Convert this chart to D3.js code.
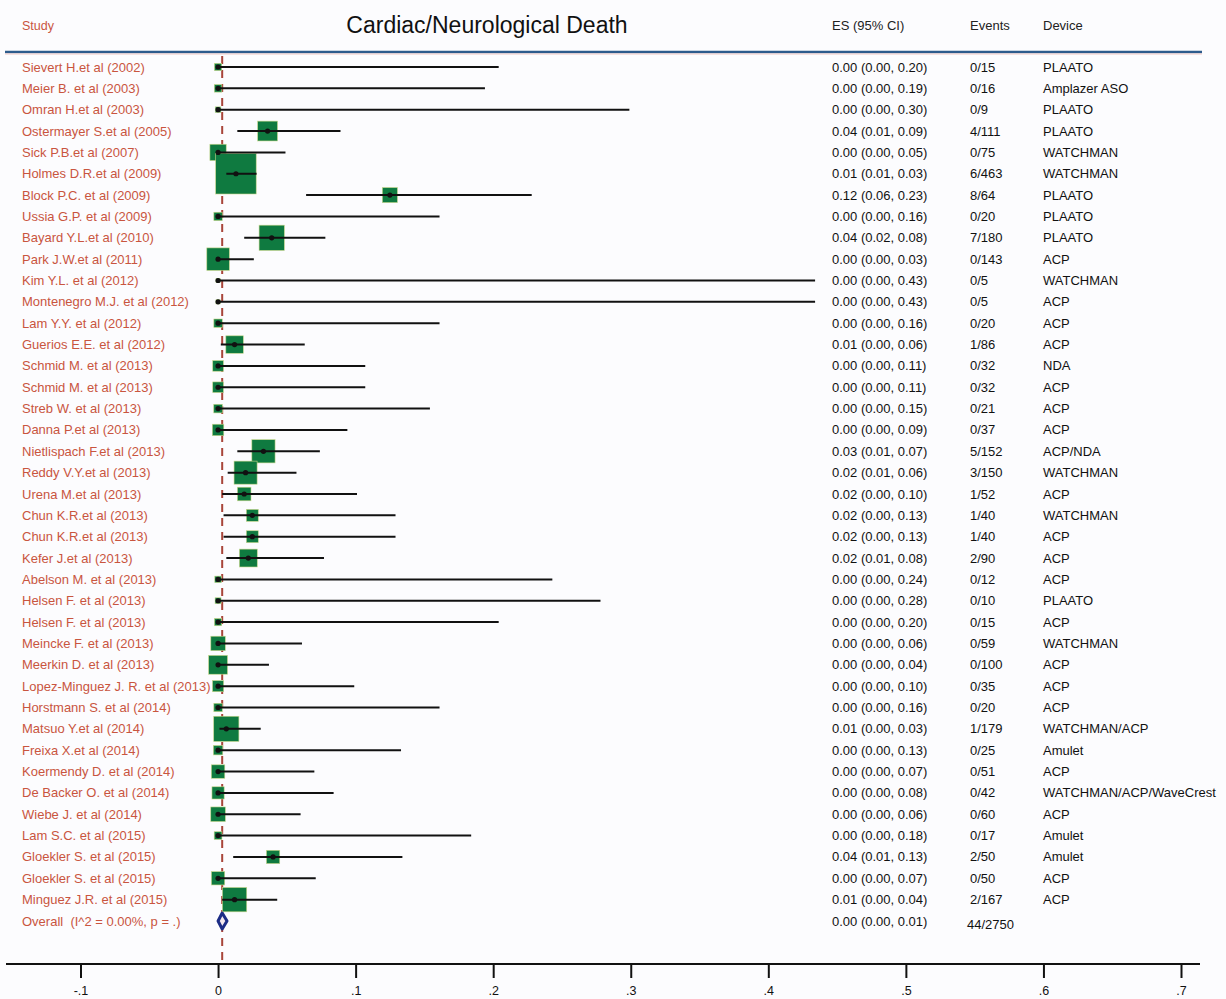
<!DOCTYPE html>
<html>
<head>
<meta charset="utf-8">
<script src="https://cdn.jsdelivr.net/npm/d3@7"></script>
<style>
  html, body { margin: 0; padding: 0; background: #fcfcfe; }
  svg { display: block; font-family: "Liberation Sans", Arial, Helvetica, sans-serif; }
</style>
</head>
<body>
<svg id="chart" width="1226" height="999"></svg>
<script>
// Study rows, top to bottom
const studies = [
  "Sievert H.et al (2002)", "Meier B. et al (2003)", "Omran H.et al (2003)",
  "Ostermayer S.et al (2005)", "Sick P.B.et al (2007)", "Holmes D.R.et al (2009)",
  "Block P.C. et al (2009)", "Ussia G.P. et al (2009)", "Bayard Y.L.et al (2010)",
  "Park J.W.et al (2011)", "Kim Y.L. et al (2012)", "Montenegro M.J. et al (2012)",
  "Lam Y.Y. et al (2012)", "Guerios E.E. et al (2012)", "Schmid M. et al (2013)",
  "Schmid M. et al (2013)", "Streb W. et al (2013)", "Danna P.et al (2013)",
  "Nietlispach F.et al (2013)", "Reddy V.Y.et al (2013)", "Urena M.et al (2013)",
  "Chun K.R.et al (2013)", "Chun K.R.et al (2013)", "Kefer J.et al (2013)",
  "Abelson M. et al (2013)", "Helsen F. et al (2013)", "Helsen F. et al (2013)",
  "Meincke F. et al (2013)", "Meerkin D. et al (2013)", "Lopez-Minguez J. R. et al (2013)",
  "Horstmann S. et al (2014)", "Matsuo Y.et al (2014)", "Freixa X.et al (2014)",
  "Koermendy D. et al (2014)", "De Backer O. et al (2014)", "Wiebe J. et al (2014)",
  "Lam S.C. et al (2015)", "Gloekler S. et al (2015)", "Gloekler S. et al (2015)",
  "Minguez J.R. et al (2015)"
];

// Events and patients per study
const events = [0, 0, 0, 4, 0, 6, 8, 0, 7, 0, 0, 0, 0, 1, 0, 0, 0, 0, 5, 3,
                1, 1, 1, 2, 0, 0, 0, 0, 0, 0, 0, 1, 0, 0, 0, 0, 0, 2, 0, 2];
const totals = [15, 16, 9, 111, 75, 463, 64, 20, 180, 143, 5, 5, 20, 86, 32, 32, 21, 37, 152, 150,
                52, 40, 40, 90, 12, 10, 15, 59, 100, 35, 20, 179, 25, 51, 42, 60, 17, 50, 50, 167];

// Effect size (proportion) with 95% CI
const es = [0, 0, 0, 0.036, 0, 0.013, 0.1249, 0, 0.039, 0, 0, 0, 0, 0.012, 0, 0, 0, 0, 0.033, 0.020,
            0.019, 0.0249, 0.0249, 0.022, 0, 0, 0, 0, 0, 0, 0, 0.006, 0, 0, 0, 0, 0, 0.040, 0, 0.012];
const ciLow = [0, 0, 0, 0.014, 0, 0.006, 0.064, 0, 0.019, 0, 0, 0, 0, 0.002, 0, 0, 0, 0, 0.014, 0.007,
               0.003, 0.004, 0.004, 0.006, 0, 0, 0, 0, 0, 0, 0, 0.001, 0, 0, 0, 0, 0, 0.011, 0, 0.003];
const ciHigh = [0.204, 0.194, 0.299, 0.089, 0.049, 0.028, 0.228, 0.161, 0.078, 0.026,
                0.434, 0.434, 0.161, 0.063, 0.107, 0.107, 0.154, 0.094, 0.074, 0.057,
                0.101, 0.129, 0.129, 0.077, 0.243, 0.278, 0.204, 0.061, 0.037, 0.099,
                0.161, 0.031, 0.133, 0.070, 0.084, 0.060, 0.184, 0.134, 0.071, 0.043];

const devices = [
  "PLAATO", "Amplazer ASO", "PLAATO", "PLAATO", "WATCHMAN", "WATCHMAN", "PLAATO", "PLAATO",
  "PLAATO", "ACP", "WATCHMAN", "ACP", "ACP", "ACP", "NDA", "ACP", "ACP", "ACP", "ACP/NDA",
  "WATCHMAN", "ACP", "WATCHMAN", "ACP", "ACP", "ACP", "PLAATO", "ACP", "WATCHMAN", "ACP",
  "ACP", "ACP", "WATCHMAN/ACP", "Amulet", "ACP", "WATCHMAN/ACP/WaveCrest", "ACP", "Amulet",
  "Amulet", "ACP", "ACP"
];

// Pooled estimate
const overallLabel = "Overall  (I^2 = 0.00%, p = .)";
const overallES = 0.003;
const overallLow = 0.0;
const overallHigh = 0.0065;
const overallEvents = "44/2750";

const titleText = "Cardiac/Neurological Death";
const headers = { study: "Study", es: "ES (95% CI)", events: "Events", device: "Device" };
const xTicks = [-0.1, 0, 0.1, 0.2, 0.3, 0.4, 0.5, 0.6, 0.7];

// ---- layout ----
const svg = d3.select("#chart");
const labelColor = "#c9553f";
const boxColor = "#0f7a40";

const x = d3.scaleLinear().domain([-0.1, 0.7]).range([80.5, 1181]);
const nRows = studies.length + 1;
const y = d3.scalePoint().domain(d3.range(nRows)).range([67, 921]);
const boxSide = d3.scaleSqrt().domain([0, d3.max(totals)]).range([0, 40.5]);
const fmt2 = d3.format(".2f");

const rows = studies.map((s, i) => ({
  i, study: s, es: es[i], lo: ciLow[i], hi: ciHigh[i],
  ev: events[i], n: totals[i], device: devices[i]
}));

// header
svg.append("text").attr("x", 22).attr("y", 30).attr("font-size", 12.5)
  .attr("fill", labelColor).text(headers.study);
svg.append("text").attr("x", 487).attr("y", 33).attr("font-size", 23)
  .attr("text-anchor", "middle").attr("fill", "#111").text(titleText);
svg.append("text").attr("x", 832).attr("y", 30).attr("font-size", 13)
  .attr("fill", "#222").text(headers.es);
svg.append("text").attr("x", 970).attr("y", 30).attr("font-size", 13)
  .attr("fill", "#222").text(headers.events);
svg.append("text").attr("x", 1043).attr("y", 30).attr("font-size", 13)
  .attr("fill", "#222").text(headers.device);

svg.append("line").attr("x1", 5).attr("x2", 1202).attr("y1", 52).attr("y2", 52)
  .attr("stroke", "#2d5b8c").attr("stroke-width", 2.5);
svg.append("line").attr("x1", 5).attr("x2", 1202).attr("y1", 54).attr("y2", 54)
  .attr("stroke", "#f0c8c4").attr("stroke-width", 1);

// study labels (drawn under the markers)
const textG = svg.append("g").attr("font-size", 13);
textG.selectAll("text.study").data(rows).join("text").attr("class", "study")
  .attr("x", 22).attr("y", d => y(d.i) + 4.5).attr("fill", labelColor).text(d => d.study);
textG.append("text").attr("x", 22).attr("y", y(nRows - 1) + 4.5)
  .attr("fill", labelColor).attr("xml:space", "preserve").style("white-space", "pre")
  .text(overallLabel);

// pooled-estimate reference line
svg.append("line").attr("x1", x(overallES)).attr("x2", x(overallES))
  .attr("y1", 56).attr("y2", 963)
  .attr("stroke", "#a8453a").attr("stroke-width", 2).attr("stroke-dasharray", "8,6");

// weighted boxes
svg.append("g").selectAll("rect").data(rows).join("rect")
  .attr("x", d => x(d.es) - boxSide(d.n) / 2)
  .attr("y", d => y(d.i) - boxSide(d.n) / 2)
  .attr("width", d => boxSide(d.n)).attr("height", d => boxSide(d.n))
  .attr("fill", boxColor).attr("stroke", "#c8d88a").attr("stroke-width", 0.6);

// confidence intervals
svg.append("g").selectAll("line").data(rows).join("line")
  .attr("x1", d => x(d.lo)).attr("x2", d => x(d.hi))
  .attr("y1", d => y(d.i)).attr("y2", d => y(d.i))
  .attr("stroke", "#111").attr("stroke-width", 2);

// point estimates
svg.append("g").selectAll("circle").data(rows).join("circle")
  .attr("cx", d => x(d.es)).attr("cy", d => y(d.i)).attr("r", 2.6).attr("fill", "#111");

// pooled diamond
const oy = y(nRows - 1);
svg.append("path")
  .attr("d", `M${x(overallLow)},${oy} L${x(overallES)},${oy - 8} L${x(overallHigh)},${oy} L${x(overallES)},${oy + 8} Z`)
  .attr("fill", "#f4e8ee").attr("stroke", "#1c2c86").attr("stroke-width", 3)
  .attr("stroke-linejoin", "round");

// right-hand columns
const colG = svg.append("g").attr("font-size", 13).attr("fill", "#111");
colG.selectAll("text.es").data(rows).join("text").attr("class", "es")
  .attr("x", 832).attr("y", d => y(d.i) + 4.5)
  .text(d => `${fmt2(d.es)} (${fmt2(d.lo)}, ${fmt2(d.hi)})`);
colG.selectAll("text.ev").data(rows).join("text").attr("class", "ev")
  .attr("x", 970).attr("y", d => y(d.i) + 4.5).text(d => `${d.ev}/${d.n}`);
colG.selectAll("text.dev").data(rows).join("text").attr("class", "dev")
  .attr("x", 1043).attr("y", d => y(d.i) + 4.5).text(d => d.device);
colG.append("text").attr("x", 832).attr("y", oy + 4.5)
  .text(`${fmt2(overallES)} (${fmt2(overallLow)}, ${fmt2(overallHigh)})`);
colG.append("text").attr("x", 967).attr("y", oy + 7.5).text(overallEvents);

// x axis, Stata-style tick labels (-.1, 0, .1, ...)
const axisY = 964;
const tickFmt = d => d === 0 ? "0" : d.toFixed(1).replace("0.", ".");
const axisG = svg.append("g").attr("transform", `translate(0,${axisY})`)
  .call(d3.axisBottom(x).tickValues(xTicks).tickFormat(tickFmt).tickSize(14).tickPadding(8));
axisG.select(".domain").remove();
axisG.selectAll(".tick line").attr("stroke", "#111").attr("stroke-width", 2);
axisG.selectAll(".tick text").attr("font-size", 12.5).attr("fill", "#111")
  .attr("font-family", "'Liberation Sans', Arial, sans-serif");
svg.append("line").attr("x1", 6).attr("x2", 1200).attr("y1", axisY).attr("y2", axisY)
  .attr("stroke", "#111").attr("stroke-width", 2.2);
</script>
</body>
</html>
